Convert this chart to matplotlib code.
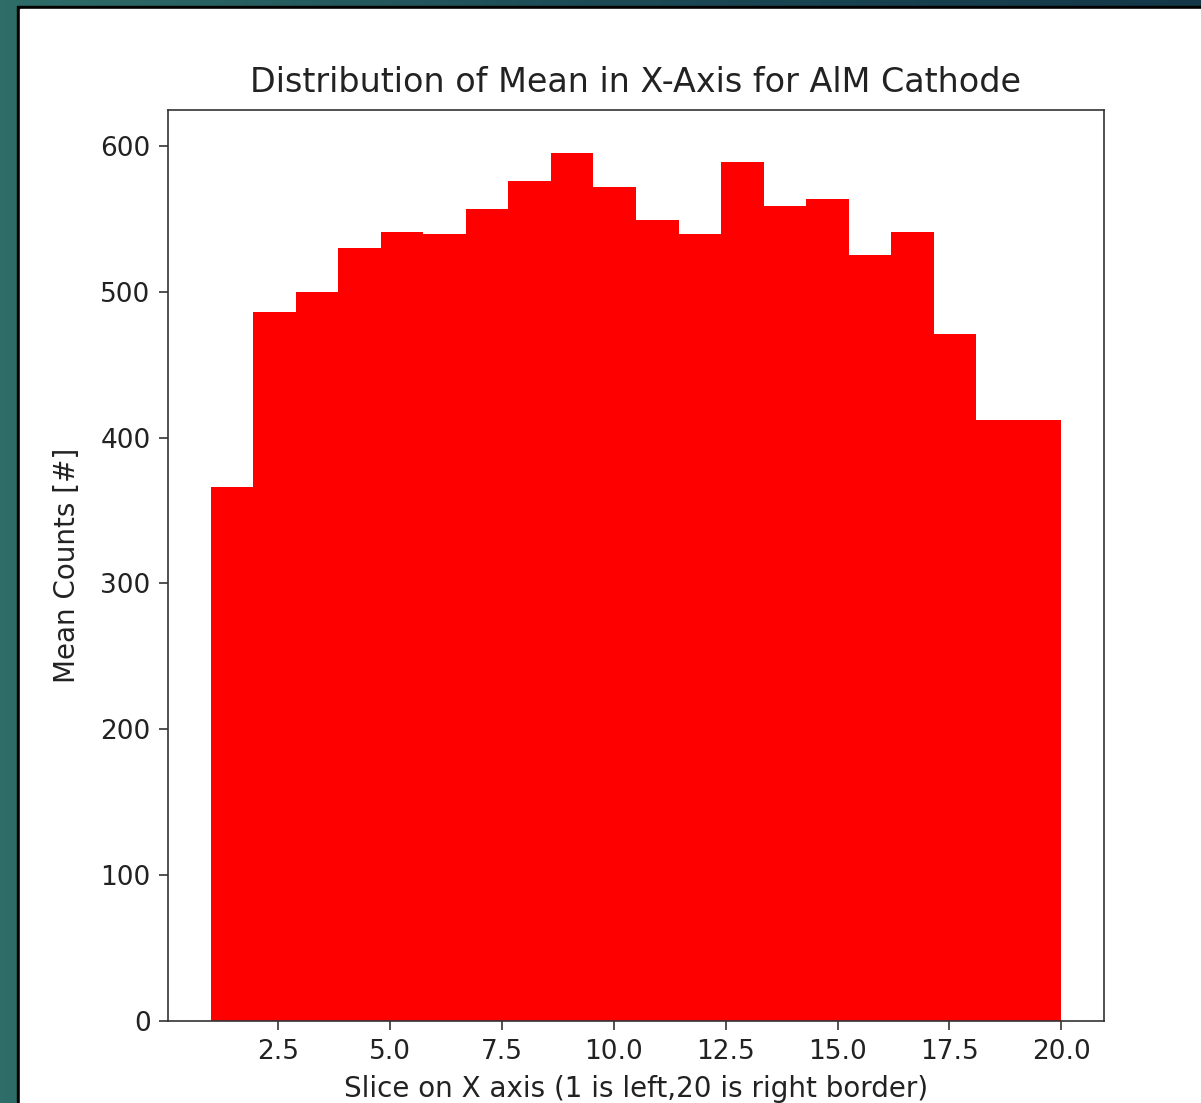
import numpy as np
import matplotlib
matplotlib.use("Agg")
import matplotlib.pyplot as plt
from matplotlib.patches import Rectangle
from matplotlib.colors import LinearSegmentedColormap

# slice index on the x axis (1 = left border, 20 = right border)
slices = list(range(1, 21))
# mean counts per slice
mean_counts = [366, 486, 500, 530, 541, 540, 557, 576, 595, 572,
               549, 540, 589, 559, 564, 525, 541, 471, 412, 412]

title = "Distribution of Mean in X-Axis for AlM Cathode"
xlabel = "Slice on X axis (1 is left,20 is right border)"
ylabel = "Mean Counts [#]"

plt.rcParams['font.family'] = ['DejaVu Sans']
plt.rcParams['text.color'] = '#222222'
plt.rcParams['xtick.labelcolor'] = '#222222'
plt.rcParams['ytick.labelcolor'] = '#222222'
plt.rcParams['axes.labelcolor'] = '#222222'

fig = plt.figure(figsize=(12.01, 11.03), dpi=100)

# screenshot-like backdrop: teal gradient, black frame, white panel
bg = fig.add_axes([0, 0, 1, 1], zorder=-10)
grad = np.linspace(0, 1, 256).reshape(1, -1)
teal = LinearSegmentedColormap.from_list("teal", ["#2f6d69", "#1b4a55", "#133748"])
bg.imshow(grad, cmap=teal, aspect='auto', extent=[0, 1, 0, 1])
bg.add_patch(Rectangle((17 / 1201, 0), 1, 1 - 6 / 1103, color='black'))
bg.add_patch(Rectangle((20 / 1201, 0), 1, 1 - 9 / 1103, color='white'))
bg.set_xlim(0, 1)
bg.set_ylim(0, 1)
bg.axis('off')

ax = fig.add_axes([0.1399, 0.0746, 0.7793, 0.8257])
ax.hist(slices, bins=20, weights=mean_counts, color='red')

ax.set_title(title, fontsize=24, pad=13)
ax.set_xlabel(xlabel, fontsize=20, labelpad=7)
ax.set_ylabel(ylabel, fontsize=20, labelpad=14)
ax.tick_params(labelsize=19, length=6.5, width=1.2, color='#333333')
ax.tick_params(axis='x', pad=7)
ax.tick_params(axis='y', pad=6)
for s in ax.spines.values():
    s.set_linewidth(1.2)
    s.set_color('#333333')

fig.savefig("out.png", dpi=100)
